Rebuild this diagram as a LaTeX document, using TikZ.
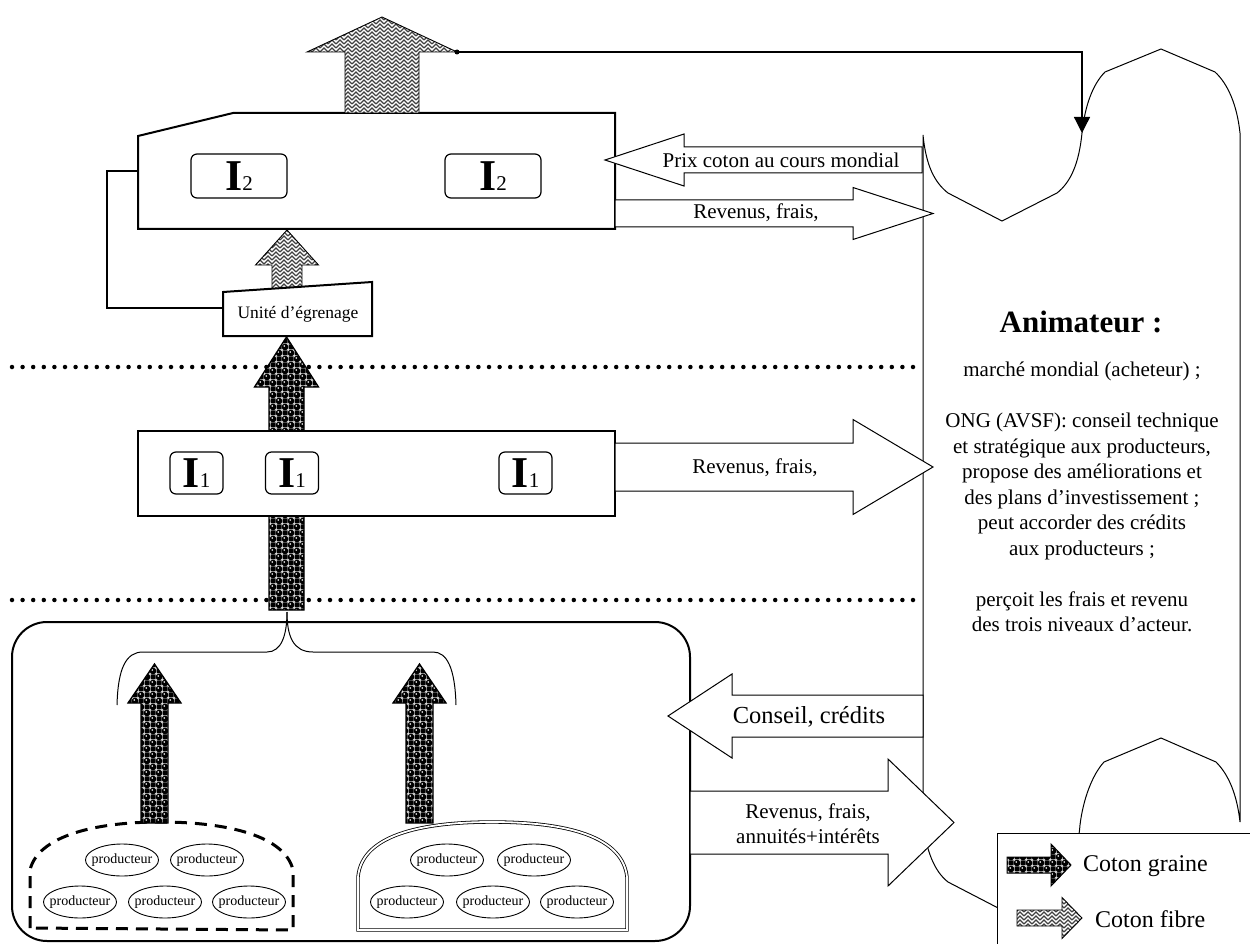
\documentclass[tikz,border=0pt]{standalone}
\usepackage{fontspec}
\setmainfont{Liberation Serif}
\usepackage{tikz}
\usetikzlibrary{shapes,arrows,arrows.meta,patterns,backgrounds}

% coton graine: black seeds on a checker
\pgfdeclarepatterninherentlycolored{seeds}{\pgfpoint{-1pt}{-1pt}}{\pgfpoint{13pt}{13pt}}{\pgfpoint{12pt}{12pt}}{%
  \pgfsetfillcolor{black}%
  \pgfpathrectangle{\pgfpoint{6.5pt}{0.5pt}}{\pgfpoint{5pt}{5pt}}%
  \pgfpathrectangle{\pgfpoint{0.5pt}{6.5pt}}{\pgfpoint{5pt}{5pt}}%
  \pgfusepath{fill}%
  \pgfpathcircle{\pgfpoint{3pt}{3pt}}{3.4pt}%
  \pgfpathcircle{\pgfpoint{9pt}{9pt}}{3.4pt}%
  \pgfusepath{fill}%
  \pgfsetfillcolor{white}%
  \pgfpathcircle{\pgfpoint{2.2pt}{4pt}}{0.9pt}%
  \pgfpathcircle{\pgfpoint{8.2pt}{10pt}}{0.9pt}%
  \pgfusepath{fill}%
}
% coton fibre: grey weave
\pgfdeclarepatternformonly{fibres}{\pgfpoint{-1pt}{-1pt}}{\pgfpoint{9pt}{9pt}}{\pgfpoint{8pt}{8pt}}{%
  \pgfsetlinewidth{1.3pt}%
  \pgfpathmoveto{\pgfpoint{0pt}{0pt}}\pgfpathlineto{\pgfpoint{4pt}{4pt}}\pgfpathlineto{\pgfpoint{8pt}{0pt}}%
  \pgfpathmoveto{\pgfpoint{0pt}{4pt}}\pgfpathlineto{\pgfpoint{4pt}{8pt}}\pgfpathlineto{\pgfpoint{8pt}{4pt}}%
  \pgfusepath{stroke}%
}

% block arrows: tail, axis, shaft half width, head base, head half width, tip
\newcommand{\harrow}[6]{(#1,#2-#3) -- (#4,#2-#3) -- (#4,#2-#5) -- (#6,#2) -- (#4,#2+#5) -- (#4,#2+#3) -- (#1,#2+#3) -- cycle}
\newcommand{\varrow}[6]{(#1-#3,#2) -- (#1-#3,#4) -- (#1-#5,#4) -- (#1,#6) -- (#1+#5,#4) -- (#1+#3,#4) -- (#1+#3,#2) -- cycle}
\newcommand{\levellabel}[1]{{\fontsize{44}{44}\selectfont\bfseries I}{\fontsize{21}{21}\selectfont #1}}

\begin{document}
\begin{tikzpicture}[x=1pt, y=-1pt,
    heavy/.style={line width=2pt},
    flowarrow/.style={draw, line width=1pt, fill=white},
    seedarrow/.style={draw, line width=1.3pt, preaction={fill=white}, pattern=seeds},
    fibrearrow/.style={draw, line width=0.9pt, preaction={fill=white}, pattern=fibres, pattern color=black!75},
    ibox/.style={draw, line width=1.2pt, rounded corners=6pt, inner sep=0pt, fill=white},
    prod/.style={draw, ellipse, line width=0.9pt, minimum width=73pt, minimum height=32pt, inner xsep=-4.5pt, inner ysep=0pt, font=\fontsize{14}{14}\selectfont},
    dotline/.style={line width=4.5pt, line cap=round, dash pattern=on 0pt off 10.6pt},
    txt/.style={inner sep=0pt, align=center, font=\fontsize{21}{25.5}\selectfont}]
\useasboundingbox (0,0) rectangle (1250,944);

% Animateur
\draw[line width=1pt, fill=white] (923,135) .. controls (926,165) and (934,182) .. (948,193) -- (1002,221) -- (1057,193)
   .. controls (1071,182) and (1079,163) .. (1082,133) .. controls (1085,105) and (1093,84) .. (1105,72) -- (1161,49) -- (1215,72)
   .. controls (1228,84) and (1237,105) .. (1240,133) -- (1240,822) .. controls (1237,795) and (1229,775) .. (1216,762)
   -- (1161,738) -- (1104,762) .. controls (1092,775) and (1083,800) .. (1080,825) .. controls (1078,850) and (1071,870) .. (1057,882)
   -- (1002,910) -- (948,882) .. controls (934,871) and (926,850) .. (923,822) -- cycle;

\draw[dotline] (12,367) -- (915,367);
\draw[dotline] (12,600) -- (915,600);

% niveau I2
\draw[heavy, fill=white] (138,136) -- (233,113) -- (615,113) -- (615,229) -- (138,229) -- cycle;
\node (I2a) [ibox, minimum width=96pt, minimum height=44pt] at (239,176) {\levellabel{2}};
\node (I2b) [ibox, minimum width=96pt, minimum height=44pt] at (493,176) {\levellabel{2}};
\draw[fibrearrow] \varrow{382}{113}{37}{52}{75}{17};
\coordinate (fibre-r) at (457,52);
\coordinate (anim-top) at (1082,133);
\fill (fibre-r) circle (2.5pt);
\draw[line width=1.3pt, -{Triangle[width=16pt,length=16pt]}] (fibre-r) -| (anim-top);

\coordinate (usine-w) at (138,171);
\coordinate (unite-w) at (223,308);
\draw[heavy] (usine-w) -- (107,171) |- (unite-w);
\draw[fibrearrow] \varrow{287}{292}{15}{265}{31.5}{230};
\draw[heavy, fill=white] (223,292) -- (372,282) -- (372,336) -- (223,336) -- cycle;
\node (unite) [inner sep=0pt, font=\fontsize{17.5}{17.5}\selectfont] at (298,314) {Unité d'égrenage};

% niveau I1
\draw[seedarrow] \varrow{286.5}{610}{17.5}{387}{32}{337};
\draw[heavy, fill=white] (138,431) rectangle (615,516);
\node (I1a) [ibox, minimum width=53pt, minimum height=42pt] at (196.5,473) {\levellabel{1}};
\node (I1b) [ibox, minimum width=53pt, minimum height=42pt] at (292,473) {\levellabel{1}};
\node (I1c) [ibox, minimum width=53pt, minimum height=42pt] at (525.5,473) {\levellabel{1}};

% producteurs
\draw[heavy, rounded corners=35pt] (12,622) rectangle (690,941);
\draw[line width=1pt] (117,705) .. controls (118,668) and (126,652) .. (143,652) -- (267,652) .. controls (281,652) and (287,636) .. (287,612);
\draw[line width=1pt] (456,705) .. controls (455,668) and (447,652) .. (433,652) -- (313,652) .. controls (293,652) and (287,636) .. (287,612);
\draw[line width=3pt, dash pattern=on 12pt off 8pt] (30,928) -- (30,870) .. controls (38,836) and (95,822) .. (160,822)
   .. controls (228,822) and (285,836) .. (293,870) -- (293,930) -- cycle;
\draw[line width=0.8pt, double, double distance=1.8pt] (358,930) -- (358,877) .. controls (362,832) and (430,822) .. (492,822)
   .. controls (555,822) and (622,832) .. (627,877) -- (627,930) -- cycle;
\draw[seedarrow] \varrow{154.5}{823}{13.5}{703}{26.5}{664};
\draw[seedarrow] \varrow{419.5}{823}{13.5}{703}{26.5}{664};
\node (p1) [prod] at (122,860) {producteur};
\node (p2) [prod] at (207,860) {producteur};
\node (p3) [prod] at (80,902) {producteur};
\node (p4) [prod] at (165,902) {producteur};
\node (p5) [prod] at (249,902) {producteur};
\node (q1) [prod] at (447,860) {producteur};
\node (q2) [prod] at (534,860) {producteur};
\node (q3) [prod] at (407,902) {producteur};
\node (q4) [prod] at (493,902) {producteur};
\node (q5) [prod] at (577,902) {producteur};

% flux
\draw[flowarrow] \harrow{922}{160}{13}{684}{26}{605};
\node (prix) [txt] at (781,160) {Prix coton au cours mondial};
\draw[flowarrow] \harrow{615}{213.5}{13.5}{853}{26}{933};
\node (revI2) [txt] at (756,213) {Revenus, frais,};
\draw[flowarrow] \harrow{615}{467}{24}{853}{47.5}{933};
\node (revI1) [txt] at (755,468) {Revenus, frais,};
\draw[flowarrow] \harrow{923}{716}{21}{732}{42}{668};
\node (conseil) [txt, font=\fontsize{24.5}{24.5}\selectfont] at (809,717) {Conseil, crédits};
\draw[flowarrow] \harrow{690}{822.5}{31.5}{888}{63.5}{954};
\node (revProd) [txt, font=\fontsize{21}{25}\selectfont] at (808,824) {Revenus, frais,\\annuités+intérêts};

\node (animTitle) [inner sep=0pt, font=\fontsize{31}{31}\selectfont\bfseries] at (1081,322) {Animateur :};
\node (animText) [txt] at (1082,497) {marché mondial (acheteur) ;\\[25.5pt] ONG (AVSF): conseil technique\\ et stratégique aux producteurs,\\ propose des améliorations et\\ des plans d'investissement ;\\ peut accorder des crédits\\ aux producteurs ;\\[25.5pt] perçoit les frais et revenu\\ des trois niveaux d'acteur.};

% legende
\draw[line width=1pt, fill=white] (997,833) rectangle (1262,960);
\draw[seedarrow, line width=1pt] \harrow{1007}{865}{8}{1051}{21}{1071};
\node (legSeed) [inner sep=0pt, anchor=west, font=\fontsize{24}{24}\selectfont] at (1083,866) {Coton graine};
\draw[fibrearrow] \harrow{1017}{918}{8}{1062}{20.5}{1082};
\node (legFibre) [inner sep=0pt, anchor=west, font=\fontsize{24}{24}\selectfont] at (1095,919) {Coton fibre};
\end{tikzpicture}
\end{document}
